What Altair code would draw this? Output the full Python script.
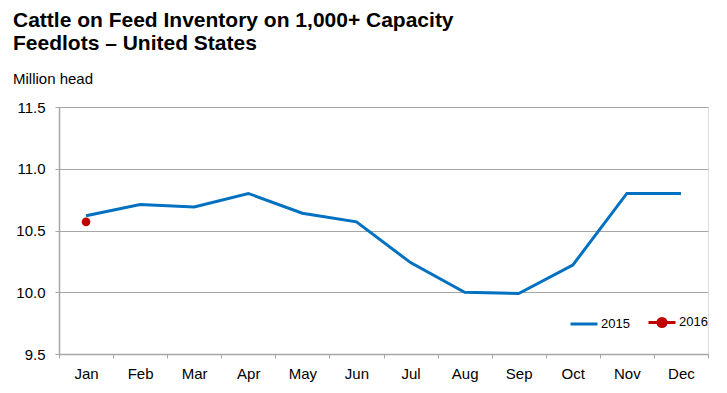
import altair as alt
import pandas as pd

months = ["Jan", "Feb", "Mar", "Apr", "May", "Jun", "Jul", "Aug", "Sep", "Oct", "Nov", "Dec"]
v2015 = [10.62, 10.71, 10.69, 10.80, 10.64, 10.57, 10.24, 10.00, 9.99, 10.22, 10.80, 10.80]
months_2016 = ["Jan"]
v2016 = [10.57]
years = ["2015", "2016"]
colors = ["#0070C0", "#C00000"]
y_ticks = [9.5, 10.0, 10.5, 11.0, 11.5]

rows = [{"month": m, "value": v, "year": "2015"} for m, v in zip(months, v2015)]
rows += [{"month": m, "value": v, "year": "2016"} for m, v in zip(months_2016, v2016)]
df = pd.DataFrame(rows)

FONT = "Liberation Sans"
GRID = "#A6A6A6"

dot_path = "M-1,0H1M-0.3,0A0.3,0.3,0,1,1,0.3,0A0.3,0.3,0,1,1,-0.3,0Z"

x_enc = alt.X("month:N", sort=months, scale=alt.Scale(domain=months, paddingInner=0, paddingOuter=0),
              axis=alt.Axis(title=None, labelAngle=0, tickBand="extent", tickSize=4, tickColor=GRID,
                            domainColor=GRID, domainWidth=1.5, labelFont=FONT, labelFontSize=15,
                            labelColor="#000000", labelPadding=8, grid=False))
y_enc = alt.Y("value:Q", scale=alt.Scale(domain=[9.5, 11.5], nice=False, zero=False),
              axis=alt.Axis(title=None, values=y_ticks, format=".1f", tickSize=4, tickColor=GRID,
                            domainColor=GRID, domainWidth=1.5, gridColor=GRID, gridWidth=1,
                            labelFont=FONT, labelFontSize=15, labelColor="#000000", labelPadding=10))
color_enc = alt.Color("year:N", scale=alt.Scale(domain=years, range=colors),
                      legend=alt.Legend(title=None, orient="none", legendX=510, legendY=200,
                                        direction="horizontal", columns=2,
                                        symbolType=alt.ExprRef(f"datum.value === '2016' ? '{dot_path}' : 'stroke'"),
                                        symbolFillColor=alt.ExprRef("datum.value === '2016' ? '#C00000' : 'transparent'"),
                                        symbolSize=729, symbolStrokeWidth=3, labelFont=FONT,
                                        labelFontSize=13, labelColor="#000000", labelOffset=2,
                                        columnPadding=12, padding=0))

base = alt.Chart(df)
line = base.transform_filter(alt.datum.year == "2015").mark_line(strokeWidth=3).encode(
    x=x_enc, y=y_enc, color=color_enc)
dots = base.transform_filter(alt.datum.year == "2016").mark_point(filled=True, size=75, opacity=1).encode(
    x=x_enc, y=y_enc, color=color_enc)

chart = alt.layer(line, dots).properties(
    width=649, height=247,
    autosize=alt.AutoSizeParams(type="none"),
    padding={"left": 51, "top": 99, "right": 10, "bottom": 30},
    title=alt.TitleParams(
        text=["Cattle on Feed Inventory on 1,000+ Capacity", "Feedlots \u2013 United States"],
        subtitle="Million head", anchor="start", frame="group", dx=-46, offset=13,
        font=FONT, fontSize=21, fontWeight="bold", color="#000000", lineHeight=23,
        subtitleFont=FONT, subtitleFontSize=15, subtitleColor="#000000", subtitlePadding=18,
    ),
).configure_view(stroke=None).configure(background="white")

chart.save("out.html", embed_options={"renderer": "svg", "actions": False})
